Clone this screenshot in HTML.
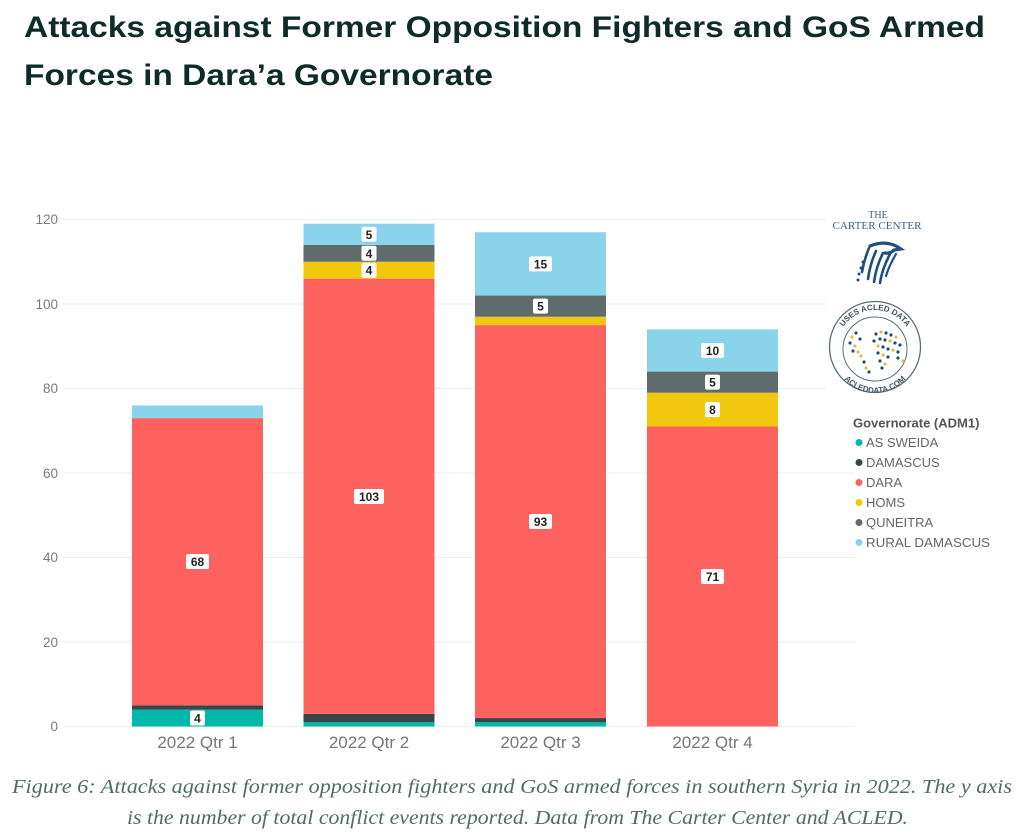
<!DOCTYPE html>
<html>
<head>
<meta charset="utf-8">
<style>
html,body{margin:0;padding:0;background:#fff;}
svg{display:block;}
</style>
</head>
<body>
<svg width="1021" height="833" viewBox="0 0 1021 833" xmlns="http://www.w3.org/2000/svg">
  <rect width="1021" height="833" fill="#fff"/>
  <!-- Title -->
  <g font-family="Liberation Sans, sans-serif" font-weight="bold" font-size="30" fill="#0f2b29">
    <text x="24" y="37" textLength="961" lengthAdjust="spacingAndGlyphs">Attacks against Former Opposition Fighters and GoS Armed</text>
    <text x="24" y="85" textLength="469" lengthAdjust="spacingAndGlyphs">Forces in Dara’a Governorate</text>
  </g>

  <!-- Gridlines -->
  <g stroke="#eeeeee" stroke-width="1">
    <line x1="63" x2="855" y1="219.5" y2="219.5"/>
    <line x1="63" x2="855" y1="304" y2="304"/>
    <line x1="63" x2="855" y1="388.5" y2="388.5"/>
    <line x1="63" x2="855" y1="473" y2="473"/>
    <line x1="63" x2="855" y1="557.5" y2="557.5"/>
    <line x1="63" x2="855" y1="642" y2="642"/>
    <line x1="63" x2="855" y1="726.5" y2="726.5"/>
  </g>

  <!-- Y labels -->
  <g font-family="Liberation Sans, sans-serif" font-size="13.5" fill="#7a7a7a" text-anchor="end">
    <text x="58" y="224">120</text>
    <text x="58" y="309">100</text>
    <text x="58" y="393">80</text>
    <text x="58" y="478">60</text>
    <text x="58" y="562">40</text>
    <text x="58" y="647">20</text>
    <text x="58" y="731">0</text>
  </g>

  <!-- Bars -->
  <!-- Q1 -->
  <rect x="132" y="709.6" width="131" height="16.9" fill="#01B8AA"/>
  <rect x="132" y="705.4" width="131" height="4.2" fill="#374649"/>
  <rect x="132" y="418.1" width="131" height="287.3" fill="#FD625E"/>
  <rect x="132" y="405.4" width="131" height="12.7" fill="#8AD4EB"/>
  <!-- Q2 -->
  <rect x="303.5" y="722.3" width="131" height="4.2" fill="#01B8AA"/>
  <rect x="303.5" y="713.8" width="131" height="8.5" fill="#374649"/>
  <rect x="303.5" y="278.65" width="131" height="435.15" fill="#FD625E"/>
  <rect x="303.5" y="261.75" width="131" height="16.9" fill="#F2C80F"/>
  <rect x="303.5" y="244.85" width="131" height="16.9" fill="#5F6B6D"/>
  <rect x="303.5" y="223.7" width="131" height="21.15" fill="#8AD4EB"/>
  <!-- Q3 -->
  <rect x="475" y="722.3" width="131" height="4.2" fill="#01B8AA"/>
  <rect x="475" y="718.05" width="131" height="4.25" fill="#374649"/>
  <rect x="475" y="325.1" width="131" height="392.95" fill="#FD625E"/>
  <rect x="475" y="316.7" width="131" height="8.4" fill="#F2C80F"/>
  <rect x="475" y="295.55" width="131" height="21.15" fill="#5F6B6D"/>
  <rect x="475" y="232.2" width="131" height="63.35" fill="#8AD4EB"/>
  <!-- Q4 -->
  <rect x="647" y="426.5" width="131" height="300" fill="#FD625E"/>
  <rect x="647" y="392.7" width="131" height="33.8" fill="#F2C80F"/>
  <rect x="647" y="371.6" width="131" height="21.1" fill="#5F6B6D"/>
  <rect x="647" y="329.35" width="131" height="42.25" fill="#8AD4EB"/>

  <!-- Data labels -->
  <g font-family="Liberation Sans, sans-serif" font-weight="bold" font-size="12" fill="#222" text-anchor="middle">
    <!-- Q1 -->
    <rect x="190" y="710.5" width="15" height="15" rx="2" fill="#fff"/><text x="197.5" y="722.5">4</text>
    <rect x="186" y="554" width="23" height="15" rx="2" fill="#fff"/><text x="197.5" y="566">68</text>
    <!-- Q2 -->
    <rect x="354" y="489" width="30" height="15" rx="2" fill="#fff"/><text x="369" y="501">103</text>
    <rect x="361.5" y="262.7" width="15" height="15" rx="2" fill="#fff"/><text x="369" y="274.7">4</text>
    <rect x="361.5" y="245.8" width="15" height="15" rx="2" fill="#fff"/><text x="369" y="257.8">4</text>
    <rect x="361.5" y="226.8" width="15" height="15" rx="2" fill="#fff"/><text x="369" y="238.8">5</text>
    <!-- Q3 -->
    <rect x="529" y="514" width="23" height="15" rx="2" fill="#fff"/><text x="540.5" y="526">93</text>
    <rect x="533" y="298.6" width="15" height="15" rx="2" fill="#fff"/><text x="540.5" y="310.6">5</text>
    <rect x="529" y="256.4" width="23" height="15" rx="2" fill="#fff"/><text x="540.5" y="268.4">15</text>
    <!-- Q4 -->
    <rect x="701" y="569" width="23" height="15" rx="2" fill="#fff"/><text x="712.5" y="581">71</text>
    <rect x="705" y="402.1" width="15" height="15" rx="2" fill="#fff"/><text x="712.5" y="414.1">8</text>
    <rect x="705" y="374.6" width="15" height="15" rx="2" fill="#fff"/><text x="712.5" y="386.6">5</text>
    <rect x="701" y="343" width="23" height="15" rx="2" fill="#fff"/><text x="712.5" y="355">10</text>
  </g>

  <!-- X labels -->
  <g font-family="Liberation Sans, sans-serif" font-size="17" fill="#777" text-anchor="middle">
    <text x="197.5" y="748">2022 Qtr 1</text>
    <text x="369" y="748">2022 Qtr 2</text>
    <text x="540.5" y="748">2022 Qtr 3</text>
    <text x="712.5" y="748">2022 Qtr 4</text>
  </g>

  <!-- Logo area (white background covering gridlines) -->
  <rect x="826" y="203" width="105" height="196" fill="#fff"/>
  <g font-family="Liberation Serif, serif" fill="#3d5f82" text-anchor="middle">
    <text x="878" y="218" font-size="10">THE</text>
    <text x="877" y="229" font-size="11" textLength="89" lengthAdjust="spacingAndGlyphs">CARTER CENTER</text>
  </g>
  <!-- Eagle -->
  <g fill="none" stroke="#1f4f7d" stroke-linecap="round">
    <path d="M870 246 Q887 239 901 249 L894 250 Q890 254 885 253" stroke-width="3.2"/>
    <path d="M869 248 Q864 260 862 272" stroke-width="2.6"/>
    <path d="M876 251 Q870 264 868 279" stroke-width="2.6"/>
    <path d="M883 253 Q876 267 874 282" stroke-width="2.6"/>
    <path d="M890 254 Q882 269 880 283" stroke-width="2.6"/>
    <path d="M896 254 Q889 266 886 276" stroke-width="2.2"/>
  </g>
  <g fill="#1f4f7d">
    <circle cx="863" cy="262" r="1.5"/>
    <circle cx="861" cy="268" r="1.5"/>
    <circle cx="859" cy="274" r="1.5"/>
    <circle cx="858" cy="280" r="1.5"/>
  </g>
  <!-- ACLED -->
  <defs>
    <path id="acTop" d="M837 348 A38 38 0 0 1 913 348"/>
    <path id="acBot" d="M834 352 A41 41 0 0 0 916 352"/>
  </defs>
  <circle cx="875" cy="347" r="45.5" fill="none" stroke="#5a6e78" stroke-width="1.3"/>
  <circle cx="875" cy="349" r="32" fill="none" stroke="#5a6e78" stroke-width="1"/>
  <g font-family="Liberation Sans, sans-serif" font-size="8" font-weight="bold" fill="#3f5460">
    <text><textPath href="#acTop" startOffset="50%" text-anchor="middle">USES ACLED DATA</textPath></text>
    <text><textPath href="#acBot" startOffset="50%" text-anchor="middle" side="left">ACLEDDATA.COM</textPath></text>
  </g>
  <g>
    <circle cx="852" cy="337" r="1.6" fill="#e8b94a"/>
    <circle cx="856" cy="333" r="1.6" fill="#1f4f6d"/>
    <circle cx="850" cy="343" r="1.6" fill="#1f4f6d"/>
    <circle cx="855" cy="346" r="1.6" fill="#e8b94a"/>
    <circle cx="860" cy="339" r="1.6" fill="#1f4f6d"/>
    <circle cx="853" cy="351" r="1.6" fill="#1f4f6d"/>
    <circle cx="858" cy="352" r="1.6" fill="#e8b94a"/>
    <circle cx="861" cy="356" r="1.6" fill="#e8b94a"/>
    <circle cx="864" cy="362" r="1.6" fill="#1f4f6d"/>
    <circle cx="866" cy="368" r="1.6" fill="#e8b94a"/>
    <circle cx="869" cy="372" r="1.6" fill="#1f4f6d"/>
    <circle cx="876" cy="334" r="1.6" fill="#1f4f6d"/>
    <circle cx="881" cy="332" r="1.6" fill="#e8b94a"/>
    <circle cx="886" cy="333" r="1.6" fill="#1f4f6d"/>
    <circle cx="891" cy="335" r="1.6" fill="#1f4f6d"/>
    <circle cx="896" cy="337" r="1.6" fill="#e8b94a"/>
    <circle cx="880" cy="339" r="1.6" fill="#1f4f6d"/>
    <circle cx="885" cy="340" r="1.6" fill="#1f4f6d"/>
    <circle cx="890" cy="341" r="1.6" fill="#e8b94a"/>
    <circle cx="895" cy="343" r="1.6" fill="#1f4f6d"/>
    <circle cx="900" cy="345" r="1.6" fill="#1f4f6d"/>
    <circle cx="874" cy="341" r="1.6" fill="#1f4f6d"/>
    <circle cx="878" cy="346" r="1.6" fill="#e8b94a"/>
    <circle cx="883" cy="347" r="1.6" fill="#1f4f6d"/>
    <circle cx="888" cy="349" r="1.6" fill="#1f4f6d"/>
    <circle cx="893" cy="350" r="1.6" fill="#e8b94a"/>
    <circle cx="898" cy="352" r="1.6" fill="#1f4f6d"/>
    <circle cx="878" cy="353" r="1.6" fill="#1f4f6d"/>
    <circle cx="883" cy="355" r="1.6" fill="#e8b94a"/>
    <circle cx="888" cy="357" r="1.6" fill="#1f4f6d"/>
    <circle cx="880" cy="361" r="1.6" fill="#1f4f6d"/>
    <circle cx="885" cy="364" r="1.6" fill="#e8b94a"/>
    <circle cx="882" cy="368" r="1.6" fill="#1f4f6d"/>
    <circle cx="898" cy="358" r="1.6" fill="#1f4f6d"/>
    <circle cx="903" cy="361" r="1.6" fill="#e8b94a"/>
  </g>

  <!-- Legend -->
  <g font-family="Liberation Sans, sans-serif">
    <text x="853" y="427.5" font-size="13" font-weight="bold" fill="#555">Governorate (ADM1)</text>
    <g font-size="13" fill="#666">
      <circle cx="859" cy="442.5" r="3.5" fill="#01B8AA"/><text x="866" y="447">AS SWEIDA</text>
      <circle cx="859" cy="462.5" r="3.5" fill="#374649"/><text x="866" y="467">DAMASCUS</text>
      <circle cx="859" cy="482.5" r="3.5" fill="#FD625E"/><text x="866" y="487">DARA</text>
      <circle cx="859" cy="502.5" r="3.5" fill="#F2C80F"/><text x="866" y="507">HOMS</text>
      <circle cx="859" cy="522.5" r="3.5" fill="#5F6B6D"/><text x="866" y="527">QUNEITRA</text>
      <circle cx="859" cy="542.5" r="3.5" fill="#8AD4EB"/><text x="866" y="547" textLength="124" lengthAdjust="spacingAndGlyphs">RURAL DAMASCUS</text>
    </g>
  </g>

  <!-- Caption -->
  <g font-family="Liberation Serif, serif" font-style="italic" font-size="20" fill="#4f6d66">
    <text x="12" y="793" textLength="1000" lengthAdjust="spacingAndGlyphs">Figure 6: Attacks against former opposition fighters and GoS armed forces in southern Syria in 2022. The y axis</text>
    <text x="127" y="824" textLength="781" lengthAdjust="spacingAndGlyphs">is the number of total conflict events reported. Data from The Carter Center and ACLED.</text>
  </g>
</svg>
</body>
</html>
